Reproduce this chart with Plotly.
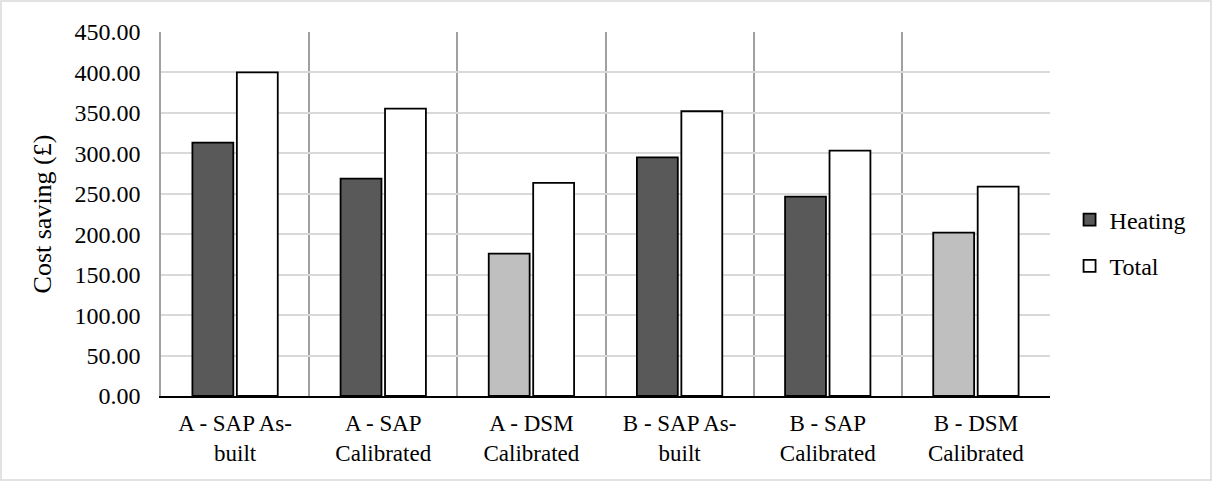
import plotly.graph_objects as go

# Scenario categories (two-line tick labels)
categories = [
    "A - SAP As-<br>built",
    "A - SAP<br>Calibrated",
    "A - DSM<br>Calibrated",
    "B - SAP As-<br>built",
    "B - SAP<br>Calibrated",
    "B - DSM<br>Calibrated",
]
heating = [313.2, 268.7, 176.0, 295.0, 246.4, 201.9]
total = [400.0, 355.3, 263.4, 352.0, 303.3, 258.8]
heating_colors = ["#595959", "#595959", "#bfbfbf", "#595959", "#595959", "#bfbfbf"]

W, H = 1212, 481
ML, MR, MT, MB = 161, 162, 32, 85
FONT = "Liberation Serif, Times New Roman, serif"

fig = go.Figure()
fig.add_trace(go.Bar(
    x=categories, y=heating, name="Heating", legendgroup="h",
    marker=dict(color=heating_colors, line=dict(color="black", width=1.8)),
))
fig.add_trace(go.Bar(
    x=categories, y=total, name="Total", legendgroup="t",
    marker=dict(color="white", line=dict(color="black", width=1.8)),
))

# light outer chart border
pw, ph = W - ML - MR, H - MT - MB
fig.add_shape(
    type="rect", xref="paper", yref="paper",
    x0=(-ML + 1) / pw, x1=(pw + MR - 1) / pw,
    y0=(-MB + 1) / ph, y1=(ph + MT - 1) / ph,
    line=dict(color="#d9d9d9", width=1.5), layer="below",
)

fig.update_layout(
    width=W, height=H,
    margin=dict(l=ML, r=MR, t=MT, b=MB),
    paper_bgcolor="white", plot_bgcolor="white",
    font=dict(family=FONT, size=23, color="black"),
    barmode="group", bargap=0.4, bargroupgap=0.08,
    showlegend=True,
    legend=dict(
        x=1.022, y=0.42, xanchor="left", yanchor="middle",
        font=dict(size=24), tracegroupgap=12,
        itemwidth=30, bgcolor="rgba(0,0,0,0)",
    ),
)
fig.update_xaxes(
    type="category", tickson="boundaries",
    showgrid=True, gridcolor="#a0a0a0", gridwidth=1.5,
    showline=True, linecolor="black", linewidth=1.5,
    ticks="", ticklabelstandoff=6,
    tickfont=dict(size=23),
)
fig.update_yaxes(
    range=[0, 450], dtick=50, tickformat=".2f",
    showgrid=True, gridcolor="#d9d9d9", gridwidth=1.5,
    showline=True, linecolor="#a0a0a0", linewidth=1.5,
    zeroline=False, ticks="", ticklabelstandoff=14,
    tickfont=dict(size=24),
    title=dict(text="Cost saving (£)", font=dict(size=26), standoff=15),
)

fig.write_html("out.html")
